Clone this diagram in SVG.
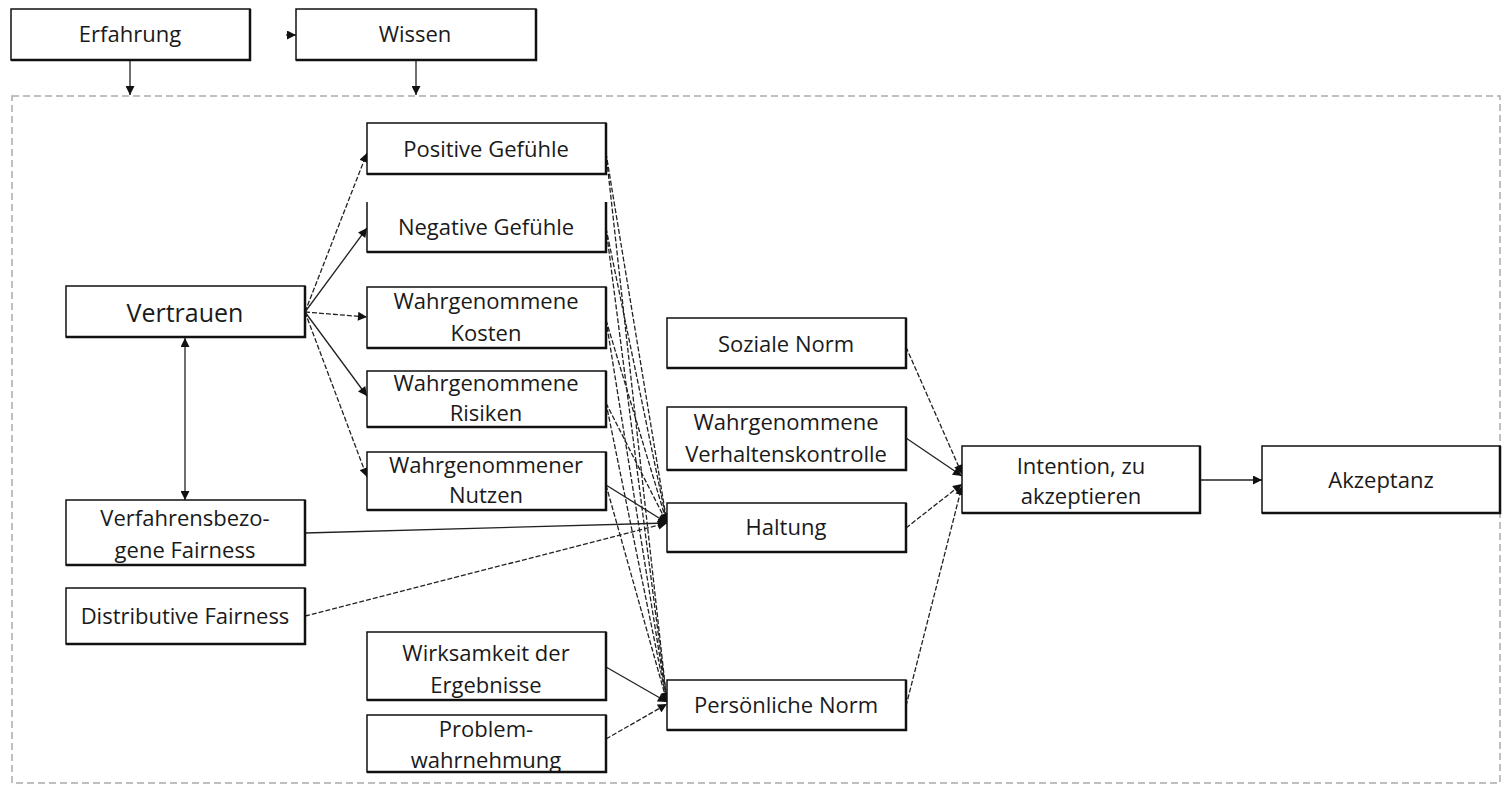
<svg xmlns="http://www.w3.org/2000/svg" width="1507" height="785" viewBox="0 0 1507 785">
<style>
.box{fill:#fff;stroke:#111;stroke-width:1.5}
.sh{fill:none;stroke:#111;stroke-width:2.5}
.t{font-family:"Open Sans","Liberation Sans",sans-serif;font-size:22px;fill:#1a1a1a;text-anchor:middle}
.big{font-size:25px}
.c{fill:none;stroke:#222;stroke-width:1.3}
.d{stroke-dasharray:5,2}
.frame{fill:none;stroke:#aaa;stroke-width:1.5;stroke-dasharray:7,4}
</style>
<defs>
<marker id="ah" viewBox="0 0 10 10" refX="10" refY="5" markerWidth="10" markerHeight="9" markerUnits="userSpaceOnUse" orient="auto">
<path d="M0,0 L10,5 L0,10 z" fill="#111"/>
</marker>
<marker id="as" viewBox="0 0 10 10" refX="0" refY="5" markerWidth="10" markerHeight="9" markerUnits="userSpaceOnUse" orient="auto">
<path d="M10,0 L0,5 L10,10 z" fill="#111"/>
</marker>
</defs>
<rect width="1507" height="785" fill="#fff"/>
<rect class="frame" x="12" y="96" width="1488" height="687"/>

<g id="connectors">
<line class="c" x1="130" y1="60" x2="130" y2="95" stroke-width="2" marker-end="url(#ah)"/>
<line class="c" x1="416" y1="60" x2="416" y2="95" stroke-width="2" marker-end="url(#ah)"/>
<line class="c" x1="286" y1="35" x2="296" y2="35" marker-end="url(#ah)"/>
<line class="c" x1="185" y1="338" x2="185" y2="500" stroke-width="2" marker-start="url(#as)" marker-end="url(#ah)"/>
<line class="c d" x1="305" y1="312" x2="367" y2="153" marker-end="url(#ah)"/>
<line class="c" x1="305" y1="312" x2="367" y2="228" marker-end="url(#ah)"/>
<line class="c d" x1="305" y1="312" x2="367" y2="317" marker-end="url(#ah)"/>
<line class="c" x1="305" y1="312" x2="367" y2="396" marker-end="url(#ah)"/>
<line class="c d" x1="305" y1="312" x2="367" y2="477" marker-end="url(#ah)"/>
<line class="c d" x1="606" y1="153" x2="667" y2="523" marker-end="url(#ah)"/>
<line class="c d" x1="606" y1="153" x2="667" y2="702" marker-end="url(#ah)"/>
<line class="c d" x1="606" y1="228" x2="667" y2="523" marker-end="url(#ah)"/>
<line class="c d" x1="606" y1="228" x2="667" y2="702" marker-end="url(#ah)"/>
<line class="c d" x1="606" y1="320" x2="667" y2="523" marker-end="url(#ah)"/>
<line class="c d" x1="606" y1="320" x2="667" y2="702" marker-end="url(#ah)"/>
<line class="c d" x1="606" y1="403" x2="667" y2="523" marker-end="url(#ah)"/>
<line class="c d" x1="606" y1="403" x2="667" y2="702" marker-end="url(#ah)"/>
<line class="c" x1="606" y1="485" x2="667" y2="523" marker-end="url(#ah)"/>
<line class="c d" x1="606" y1="485" x2="667" y2="702" marker-end="url(#ah)"/>
<line class="c" x1="305" y1="533" x2="667" y2="523" stroke-width="1.8" marker-end="url(#ah)"/>
<line class="c d" x1="305" y1="616" x2="667" y2="523" marker-end="url(#ah)"/>
<line class="c" x1="606" y1="667" x2="667" y2="702" marker-end="url(#ah)"/>
<line class="c d" x1="606" y1="739" x2="667" y2="704" marker-end="url(#ah)"/>
<line class="c d" x1="906" y1="347" x2="962" y2="474" marker-end="url(#ah)"/>
<line class="c" x1="906" y1="438" x2="962" y2="476" marker-end="url(#ah)"/>
<line class="c d" x1="906" y1="528" x2="962" y2="484" marker-end="url(#ah)"/>
<line class="c d" x1="906" y1="706" x2="962" y2="486" marker-end="url(#ah)"/>
<line class="c" x1="1200" y1="480" x2="1262" y2="480" marker-end="url(#ah)"/>
</g>

<g id="erfahrung"><rect class="box" x="11" y="9" width="239" height="51"/><path class="sh" d="M11,60 H250 V9"/><text class="t" x="130" y="42">Erfahrung</text></g>
<g id="wissen"><rect class="box" x="296" y="9" width="240" height="51"/><path class="sh" d="M296,60 H536 V9"/><text class="t" x="415" y="42">Wissen</text></g>

<g id="vertrauen"><rect class="box" x="66" y="286" width="239" height="51"/><path class="sh" d="M66,337 H305 V286"/><text class="t big" x="185" y="322">Vertrauen</text></g>
<g id="verfahrensbezogene-fairness"><rect class="box" x="66" y="500" width="239" height="65"/><path class="sh" d="M66,565 H305 V500"/><text class="t" x="185" y="526">Verfahrensbezo-</text><text class="t" x="185" y="558">gene Fairness</text></g>
<g id="distributive-fairness"><rect class="box" x="66" y="588" width="239" height="56"/><path class="sh" d="M66,644 H305 V588"/><text class="t" x="185" y="624">Distributive Fairness</text></g>

<g id="positive-gefuehle"><rect class="box" x="367" y="123" width="239" height="51"/><path class="sh" d="M367,174 H606 V123"/><text class="t" x="486" y="157">Positive Gefühle</text></g>
<g id="negative-gefuehle"><rect x="367" y="202" width="239" height="50" fill="#fff"/><path class="box" fill="none" d="M367,202 V252 H606 V202"/><path class="sh" d="M367,252 H606 V202"/><text class="t" x="486" y="235">Negative Gefühle</text></g>
<g id="wahrgenommene-kosten"><rect class="box" x="367" y="287" width="239" height="61"/><path class="sh" d="M367,348 H606 V287"/><text class="t" x="486" y="309">Wahrgenommene</text><text class="t" x="486" y="341">Kosten</text></g>
<g id="wahrgenommene-risiken"><rect class="box" x="367" y="371" width="239" height="56"/><path class="sh" d="M367,427 H606 V371"/><text class="t" x="486" y="391">Wahrgenommene</text><text class="t" x="486" y="421">Risiken</text></g>
<g id="wahrgenommener-nutzen"><rect class="box" x="367" y="452" width="239" height="58"/><path class="sh" d="M367,510 H606 V452"/><text class="t" x="486" y="473">Wahrgenommener</text><text class="t" x="486" y="503">Nutzen</text></g>
<g id="wirksamkeit"><rect class="box" x="367" y="632" width="239" height="68"/><path class="sh" d="M367,700 H606 V632"/><text class="t" x="486" y="661">Wirksamkeit der</text><text class="t" x="486" y="693">Ergebnisse</text></g>
<g id="problemwahrnehmung"><rect class="box" x="367" y="715" width="239" height="57"/><text class="t" x="486" y="737">Problem-</text><text class="t" x="486" y="768">wahrnehmung</text><path class="sh" d="M367,772 H606 V715"/></g>

<g id="soziale-norm"><rect class="box" x="667" y="318" width="239" height="50"/><path class="sh" d="M667,368 H906 V318"/><text class="t" x="786" y="352">Soziale Norm</text></g>
<g id="verhaltenskontrolle"><rect class="box" x="667" y="407" width="239" height="63"/><path class="sh" d="M667,470 H906 V407"/><text class="t" x="786" y="430">Wahrgenommene</text><text class="t" x="786" y="462">Verhaltenskontrolle</text></g>
<g id="haltung"><rect class="box" x="667" y="503" width="239" height="49"/><path class="sh" d="M667,552 H906 V503"/><text class="t" x="786" y="535">Haltung</text></g>
<g id="persoenliche-norm"><rect class="box" x="667" y="680" width="239" height="50"/><path class="sh" d="M667,730 H906 V680"/><text class="t" x="786" y="713">Persönliche Norm</text></g>

<g id="intention"><rect class="box" x="962" y="446" width="238" height="67"/><path class="sh" d="M962,513 H1200 V446"/><text class="t" x="1081" y="474">Intention, zu</text><text class="t" x="1081" y="504">akzeptieren</text></g>
<g id="akzeptanz"><rect class="box" x="1262" y="446" width="238" height="67"/><path class="sh" d="M1262,513 H1500 V446"/><text class="t" x="1381" y="488">Akzeptanz</text></g>
</svg>
